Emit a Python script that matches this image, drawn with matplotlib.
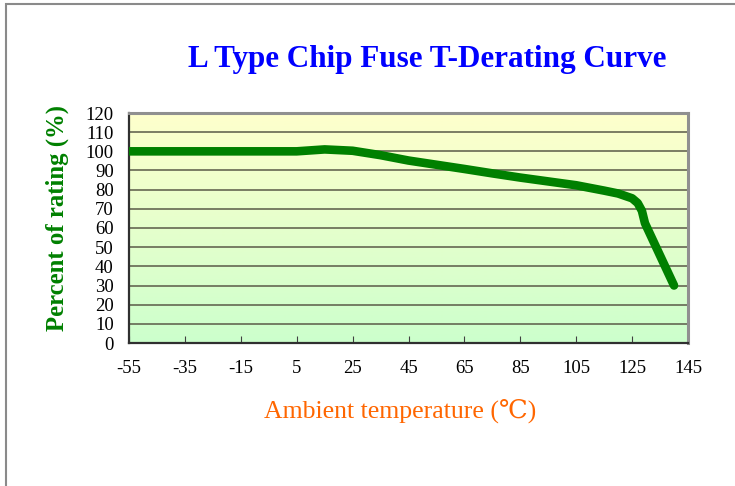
import numpy as np
import matplotlib
matplotlib.use('Agg')
import matplotlib.pyplot as plt
from matplotlib.patches import Rectangle

# dados
temperatura = [-55, -35, -15, 5, 15, 25, 35, 45, 55, 65, 75, 85, 95, 105,
               115, 120, 125, 127, 128.5, 129.6, 140]
percentual = [100, 100, 100, 100, 101, 100.3, 98, 95.2, 93, 90.8, 88.5, 86.3,
              84.3, 82.3, 79.5, 78, 75.5, 73, 69, 62.5, 30]
x_ticks = [-55, -35, -15, 5, 25, 45, 65, 85, 105, 125, 145]
y_ticks = list(range(0, 121, 10))

titulo = 'L Type Chip Fuse T-Derating Curve'
rotulo_x = 'Ambient temperature (\u2103)'
rotulo_y = 'Percent of rating (%)'

serif = ['Liberation Serif', 'DejaVu Serif']
plt.rcParams['axes.unicode_minus'] = False

fig = plt.figure(figsize=(7.35, 4.86), dpi=100)
ax = fig.add_axes([129 / 735, 1 - 343 / 486, 559 / 735, 230 / 486])

# fundo em degrade amarelo -> verde
topo = np.array([255, 255, 204]) / 255
base = np.array([204, 255, 204]) / 255
t = np.linspace(0, 1, 256)[:, None]
grad = (topo * (1 - t) + base * t)[:, None, :]
ax.imshow(grad, extent=[-55, 145, 0, 120], aspect='auto', zorder=0,
          origin='upper', interpolation='bilinear')

for y in y_ticks[1:-1]:
    ax.axhline(y, color='#5a5a48', lw=1.1, zorder=1)

ax.plot(temperatura, percentual, color='#008000', lw=6.2,
        solid_capstyle='round', solid_joinstyle='round', zorder=3)

ax.set_xlim(-55, 145)
ax.set_ylim(0, 120)
ax.set_xticks(x_ticks)
ax.set_yticks(y_ticks)
ax.tick_params(axis='x', direction='in', length=5, pad=12, color='#404040')
ax.tick_params(axis='y', length=0, pad=11)
for lbl in ax.get_xticklabels() + ax.get_yticklabels():
    lbl.set_family(serif)
    lbl.set_fontsize(13.5)

for lado in ['left', 'bottom']:
    ax.spines[lado].set_color('#303030')
    ax.spines[lado].set_linewidth(1.6)
for lado in ['top', 'right']:
    ax.spines[lado].set_color('#909090')
    ax.spines[lado].set_linewidth(2.2)

fig.text(427 / 735, 1 - 59 / 486, titulo, ha='center', va='center',
         family=serif, fontsize=22.4, fontweight='bold', color='#0000ff')
fig.text(400 / 735, 1 - 411 / 486, rotulo_x, ha='center', va='center',
         family=serif, fontsize=18.5, color='#ff6600')
fig.text(57 / 735, 1 - 218 / 486, rotulo_y, ha='center', va='center',
         rotation=90, family=serif, fontsize=17.8, fontweight='bold',
         color='#008000')

# moldura externa
fig.patches.append(Rectangle((5.5 / 735, -0.1), 1.2, 1 - 3.5 / 486 + 0.1,
                             transform=fig.transFigure, fill=False,
                             edgecolor='#8a8a8a', lw=1.5))

fig.savefig('out.png', dpi=100)
